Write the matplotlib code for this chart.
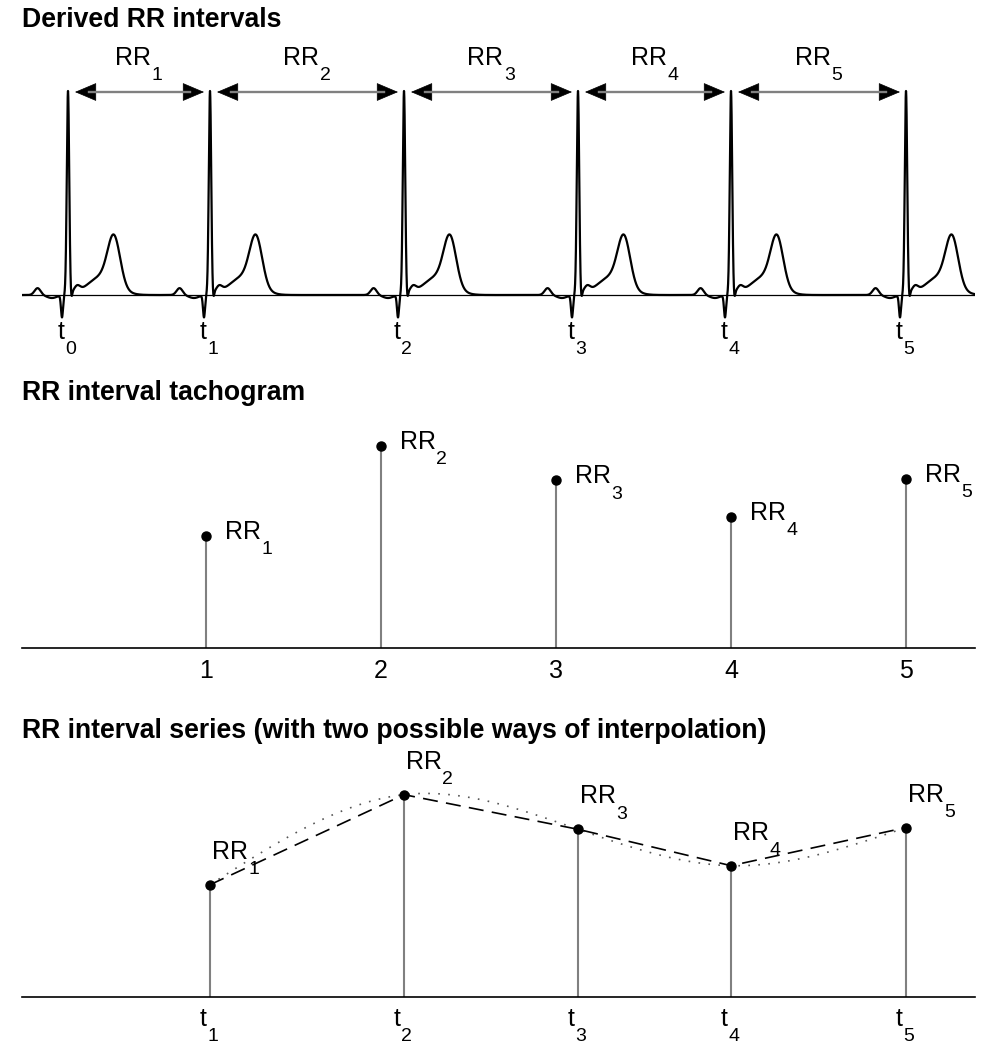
import numpy as np
import matplotlib.pyplot as plt

plt.rcParams['font.family'] = ['Liberation Sans', 'DejaVu Sans']

# R-peak times (s), t0 ... t5
r_peak_times = np.array([0.0, 0.71, 1.68, 2.55, 3.315, 4.19])
t_subs = ['0', '1', '2', '3', '4', '5']
rr_subs = ['1', '2', '3', '4', '5']
beat_index = np.arange(1, 6)
rr_ms = np.diff(r_peak_times) * 1000  # 710, 970, 870, 765, 875

# one synthetic heartbeat as a sum of waves (offset from R in s, width in s, amplitude)
wave_offset = [-0.152, -0.08, -0.03, 0.0, 0.017, 0.045, 0.17, 0.23]
wave_width = [0.015, 0.025, 0.005, 0.006, 0.004, 0.015, 0.07, 0.031]
wave_amp = [0.034, -0.015, -0.11, 1.0, -0.03, 0.03, 0.09, 0.235]

FS = 18
SUB_FS = 14
SUB_DY = 2
GREY = '#808080'

W, H = 987, 1044
fig = plt.figure(figsize=(W / 100, H / 100), dpi=100)


def rect(left, top, right, bottom):
    return [left / W, 1 - bottom / H, (right - left) / W, (bottom - top) / H]


def label(ax, xy, main, sub, offset, ha='left', xycoords='data'):
    m = ax.annotate(main, xy=xy, xycoords=xycoords, xytext=offset,
                    textcoords='offset points', ha=ha, va='baseline',
                    fontsize=FS, annotation_clip=False)
    ax.annotate(sub, xy=(1, 0), xycoords=m, xytext=(0.2, SUB_DY),
                textcoords='offset points', ha='left', va='top',
                fontsize=SUB_FS, annotation_clip=False)


def natural_spline(x, y, xs):
    n = len(x)
    h = np.diff(x)
    A = np.zeros((n, n))
    b = np.zeros(n)
    A[0, 0] = A[-1, -1] = 1
    for i in range(1, n - 1):
        A[i, i - 1] = h[i - 1]
        A[i, i] = 2 * (h[i - 1] + h[i])
        A[i, i + 1] = h[i]
        b[i] = 6 * ((y[i + 1] - y[i]) / h[i] - (y[i] - y[i - 1]) / h[i - 1])
    M = np.linalg.solve(A, b)
    k = np.clip(np.searchsorted(x, xs) - 1, 0, n - 2)
    a = (x[k + 1] - xs) / h[k]
    c = (xs - x[k]) / h[k]
    return (a * y[k] + c * y[k + 1]
            + ((a ** 3 - a) * M[k] + (c ** 3 - c) * M[k + 1]) * h[k] ** 2 / 6)


def title(y_px, text):
    fig.text(22 / W, 1 - y_px / H, text, fontsize=19.2, fontweight='bold',
             va='baseline', ha='left')


# ---- Derived RR intervals
ax1 = fig.add_axes(rect(22, 40, 975, 360))
ax1.set_xlim(-0.23, 4.535)
ax1.set_ylim(-0.3202, 1.2562)
ax1.axis('off')

t = np.arange(-0.23, 4.535, 0.0005)
ecg = np.zeros_like(t)
for r in r_peak_times:
    for mu, sd, a in zip(wave_offset, wave_width, wave_amp):
        ecg += a * np.exp(-0.5 * ((t - r - mu) / sd) ** 2)
ax1.axhline(0, color='black', lw=0.9)
ax1.plot(t, ecg, color='black', lw=1.6)

for i in range(5):
    x0 = r_peak_times[i] + 0.035
    x1 = r_peak_times[i + 1] - 0.03
    ax1.annotate('', xy=(x1, 1), xytext=(x0, 1),
                 arrowprops=dict(arrowstyle='<|-|>,head_length=1.3,head_width=0.55',
                                 mutation_scale=11, shrinkA=0, shrinkB=0,
                                 lw=0.5, color='black'), zorder=3)
    ax1.plot([x0 + 0.07, x1 - 0.07], [1, 1], color=GREY, lw=1.7, zorder=4)
    mid = (r_peak_times[i] + r_peak_times[i + 1]) / 2
    label(ax1, (mid, 1.133), 'RR', rr_subs[i], (-4, 0), ha='center')

for tp, s in zip(r_peak_times, t_subs):
    label(ax1, (tp, -0.2167), 't', s, (-2.2, 0), ha='right')

title(27, 'Derived RR intervals')

# ---- RR interval tachogram
RR_MIN = 386
MS_PER_PX = 2.886
ax2 = fig.add_axes(rect(22, 420, 975, 648))
ax2.set_xlim(-0.0514, 5.394)
ax2.set_ylim(RR_MIN, RR_MIN + 228 * MS_PER_PX)
ax2.vlines(beat_index, RR_MIN, rr_ms, color=GREY, lw=1.5)
ax2.plot(beat_index, rr_ms, 'o', color='black', ms=6.5)
for sp in ['top', 'left', 'right']:
    ax2.spines[sp].set_visible(False)
ax2.spines['bottom'].set_linewidth(1.2)
ax2.set_xticks(beat_index)
ax2.set_yticks([])
ax2.tick_params(axis='x', length=0, pad=8, labelsize=FS)
for x, v, s in zip(beat_index, rr_ms, rr_subs):
    label(ax2, (x, v), 'RR', s, (13.7, -2.2))

title(400, 'RR interval tachogram')

# ---- RR interval series
ax3 = fig.add_axes(rect(22, 740, 975, 997))
ax3.set_xlim(-0.23, 4.535)
ax3.set_ylim(RR_MIN, RR_MIN + 257 * MS_PER_PX)
beat_times = r_peak_times[1:]
ax3.vlines(beat_times, RR_MIN, rr_ms, color=GREY, lw=1.5)
xs = np.linspace(beat_times[0], beat_times[-1], 500)
ax3.plot(xs, natural_spline(beat_times, rr_ms, xs), color='#555555',
         lw=1.2, linestyle=(0, (1, 5)))
ax3.plot(beat_times, rr_ms, color='black', lw=1.2, linestyle=(0, (9, 5)))
ax3.plot(beat_times, rr_ms, 'o', color='black', ms=6.5)
for sp in ['top', 'left', 'right']:
    ax3.spines[sp].set_visible(False)
ax3.spines['bottom'].set_linewidth(1.2)
ax3.set_xticks([])
ax3.set_yticks([])
for x, v, s in zip(beat_times, rr_ms, rr_subs):
    label(ax3, (x, v), 'RR', s, (1.4, 18.7))
for x, s in zip(beat_times, t_subs[1:]):
    label(ax3, (x, 0), 't', s, (-2.2, -21), ha='right',
          xycoords=ax3.get_xaxis_transform())

title(738, 'RR interval series (with two possible ways of interpolation)')

fig.savefig('out.png', dpi=100)
